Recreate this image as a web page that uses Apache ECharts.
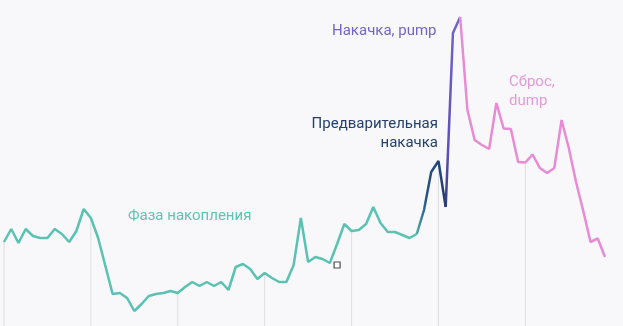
<!DOCTYPE html>
<html>
<head>
<meta charset="utf-8">
<script src="https://cdn.jsdelivr.net/npm/echarts@6/dist/echarts.min.js"></script>
<style>
html,body{margin:0;padding:0;background:#f8f8fa;}
#chart{width:623px;height:326px;}
</style>
</head>
<body>
<div id="chart"></div>
<script>
// Price values (arbitrary units), one per time step
const prices = [
  84, 97, 83, 97, 90, 88, 88, 97, 92, 84,
  95, 117, 108, 88, 60, 32, 33, 28, 15, 22,
  30, 32, 33, 35, 33, 39, 44, 40, 44, 40,
  44, 36, 59, 62, 57, 47, 53, 48, 44, 44,
  61, 108, 64, 69, 67, 63, 82, 102, 95, 96,
  102, 119, 103, 94, 94, 91, 88, 92, 116, 154,
  165, 119, 293, 309, 216, 186, 181, 177, 223, 197.5,
  197, 164, 163.5, 171.5, 158, 153, 158, 206, 178, 144,
  115, 84, 87.5, 69
];
// Phase boundaries (index ranges, inclusive)
const accumulationRange = [0, 57];
const prePumpRange = [57, 61];
const pumpRange = [61, 63];
const dumpRange = [63, 83];
// Indices with vertical drop lines
const dropLineIdx = [0, 12, 24, 36, 48, 60, 72];
// Small square marker
const markerPoint = [46, 61];
// Annotation texts
const labelAccum = 'Фаза накопления';
const labelPrePump1 = 'Предварительная';
const labelPrePump2 = 'накачка';
const labelPump = 'Накачка, pump';
const labelDump = 'Сброс,\ndump';

const categories = prices.map((_, i) => i);
function slice(range) {
  return prices.map((v, i) => (i >= range[0] && i <= range[1]) ? v : null);
}
const dropData = prices.map((v, i) => dropLineIdx.includes(i) ? v : null);

const chart = echarts.init(document.getElementById('chart'));
const FONT = 'Roboto';
const lineBase = { type: 'line', symbol: 'none', smooth: false, connectNulls: false, z: 3 };

chart.setOption({
  backgroundColor: '#f8f8fa',
  animation: false,
  grid: { left: 4, right: 18, top: 0, bottom: 0 },
  xAxis: {
    type: 'category', data: categories, boundaryGap: false,
    axisLine: { show: false }, axisTick: { show: false }, axisLabel: { show: false },
    splitLine: { show: false }
  },
  yAxis: {
    type: 'value', min: 0, max: 326,
    axisLine: { show: false }, axisTick: { show: false }, axisLabel: { show: false },
    splitLine: { show: false }
  },
  series: [
    {
      type: 'bar', data: dropData, barWidth: 1, z: 1,
      itemStyle: { color: '#dedee2' }, barGap: '-100%'
    },
    Object.assign({}, lineBase, {
      data: slice(accumulationRange),
      lineStyle: { color: '#5ac2b2', width: 2.5 }
    }),
    Object.assign({}, lineBase, {
      data: slice(prePumpRange),
      lineStyle: {
        width: 2.5,
        color: { type: 'linear', x: 0, y: 0, x2: 1, y2: 0, colorStops: [
          { offset: 0, color: '#5ac2b2' },
          { offset: 0.35, color: '#2a5585' },
          { offset: 1, color: '#1e3a6e' }
        ] }
      }
    }),
    Object.assign({}, lineBase, {
      data: slice(pumpRange),
      lineStyle: {
        width: 2.5,
        color: { type: 'linear', x: 0, y: 0, x2: 0, y2: 1, colorStops: [
          { offset: 0, color: '#7465c9' },
          { offset: 0.7, color: '#5d50b4' },
          { offset: 1, color: '#2c3d7a' }
        ] }
      }
    }),
    Object.assign({}, lineBase, {
      data: slice(dumpRange),
      lineStyle: { color: '#e88bd4', width: 2.5 }
    }),
    {
      type: 'scatter', data: [markerPoint], symbol: 'rect', symbolSize: 6, z: 4,
      itemStyle: { color: '#ffffff', borderColor: '#222222', borderWidth: 1.2 }
    }
  ],
  graphic: [
    { type: 'text', left: 128, top: 209, style: { text: labelAccum, fill: '#5cc4b4', font: '15px ' + FONT } },
    { type: 'text', right: 185, top: 117, style: { text: labelPrePump1, fill: '#23406f', font: '15px ' + FONT } },
    { type: 'text', right: 185, top: 136, style: { text: labelPrePump2, fill: '#23406f', font: '15px ' + FONT } },
    { type: 'text', left: 332, top: 24, style: { text: labelPump, fill: '#7564c6', font: '15px ' + FONT } },
    { type: 'text', left: 509, top: 73, style: { text: labelDump, fill: '#e39ad8', font: '15px ' + FONT, lineHeight: 19 } }
  ]
});
</script>
</body>
</html>
